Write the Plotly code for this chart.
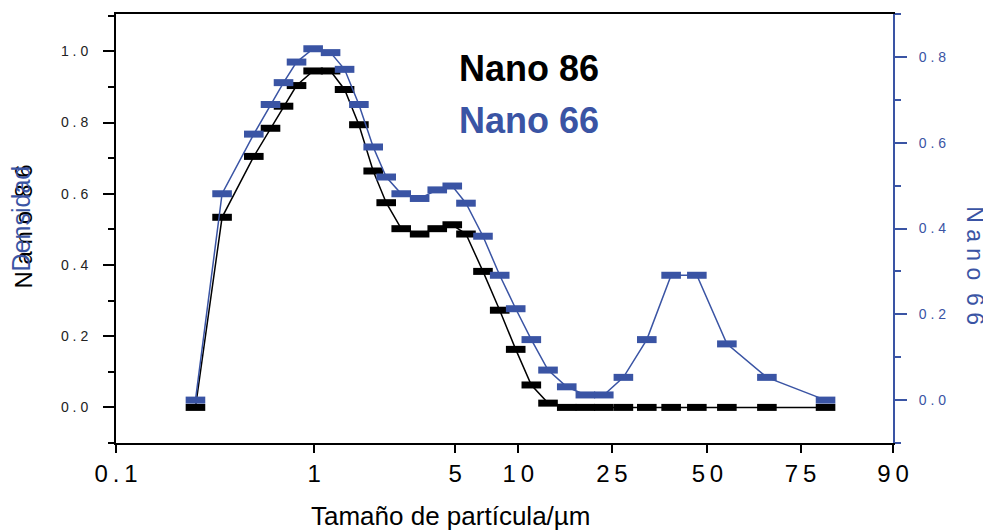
import plotly.graph_objects as go

# ---- data (x given in the chart's own custom size-axis units) ----
TICK_LABELS = ["0\u2009.\u20091", "1", "5", "1\u20090", "2\u20095", "5\u20090", "7\u20095", "9\u20090"]
TICK_POS = [0.0, 198.0, 339.0, 402.0, 495.5, 591.0, 684.0, 776.4]

X_POS = [79.4, 106.0, 137.7, 154.4, 167.4, 180.4, 197.0, 214.4, 228.4, 242.7,
         257.0, 270.0, 285.0, 303.4, 321.0, 336.0, 349.7, 366.7, 383.4, 399.4,
         415.0, 431.7, 450.4, 469.0, 487.4, 507.0, 530.4, 554.7, 580.4, 610.4,
         650.4, 709.0]

NANO86 = [0.0, 0.534, 0.705, 0.784, 0.846, 0.904, 0.945, 0.945, 0.893, 0.794,
          0.664, 0.575, 0.502, 0.487, 0.502, 0.513, 0.487, 0.382, 0.273, 0.163,
          0.063, 0.012, 0.0, 0.0, 0.0, 0.0, 0.0, 0.0, 0.0, 0.0,
          0.0, 0.0]

NANO66 = [0.0, 0.481, 0.620, 0.689, 0.740, 0.788, 0.819, 0.810, 0.771, 0.689,
          0.590, 0.520, 0.481, 0.470, 0.490, 0.499, 0.459, 0.382, 0.291, 0.213,
          0.141, 0.070, 0.031, 0.012, 0.012, 0.053, 0.141, 0.291, 0.291, 0.131,
          0.053, 0.0]

LEFT_TICKS = [0.0, 0.2, 0.4, 0.6, 0.8, 1.0]
LEFT_TEXT = ["0 . 0", "0 . 2", "0 . 4", "0 . 6", "0 . 8", "1 . 0"]
RIGHT_TICKS = [0.0, 0.2, 0.4, 0.6, 0.8]
RIGHT_TEXT = ["0 . 0", "0 . 2", "0 . 4", "0 . 6", "0 . 8"]

BLACK = "#000000"
BLUE = "#3a54a4"
SANS = "Liberation Sans, Arial, sans-serif"

fig = go.Figure()

fig.add_trace(go.Scatter(
    x=X_POS, y=NANO86, mode="lines+markers", name="Nano 86",
    line=dict(color=BLACK, width=1.5),
    marker=dict(symbol="line-ew", size=14, line=dict(color=BLACK, width=7)),
    yaxis="y", showlegend=False, cliponaxis=False,
))
fig.add_trace(go.Scatter(
    x=X_POS, y=NANO66, mode="lines+markers", name="Nano 66",
    line=dict(color=BLUE, width=1.5),
    marker=dict(symbol="line-ew", size=14, line=dict(color=BLUE, width=7)),
    yaxis="y2", showlegend=False, cliponaxis=False,
))


def note(text, x, y, size, color, angle=0):
    return dict(text=text, x=x, y=y, xref="paper", yref="paper",
                xanchor="center", yanchor="middle", textangle=angle,
                showarrow=False, font=dict(family=SANS, size=size, color=color))


fig.update_layout(
    width=983, height=523,
    margin=dict(l=108, r=98, t=4, b=88),
    paper_bgcolor="white", plot_bgcolor="white",
    xaxis=dict(
        range=[0, 776.4], tickmode="array", tickvals=TICK_POS, ticktext=TICK_LABELS,
        showgrid=False, zeroline=False, showline=True, linecolor=BLACK, linewidth=2,
        mirror=True, ticks="outside", ticklen=8, tickwidth=1.5, tickcolor=BLACK,
        tickfont=dict(family=SANS, size=24, color=BLACK),
    ),
    yaxis=dict(
        range=[-0.1, 1.105], tickmode="array", tickvals=LEFT_TICKS, ticktext=LEFT_TEXT,
        showgrid=False, zeroline=False, showline=True, linecolor=BLACK, linewidth=2,
        ticks="outside", ticklen=11, tickwidth=1.5, tickcolor=BLACK,
        ticklabelposition="outside", ticklabelstandoff=12,
        minor=dict(ticks="outside", ticklen=6, dtick=0.1, tick0=0, tickcolor=BLACK, tickwidth=1.5),
        tickfont=dict(family=SANS, size=14, color="#222222"),
    ),
    yaxis2=dict(
        range=[-0.1, 0.9], overlaying="y", side="right", anchor="x",
        tickmode="array", tickvals=RIGHT_TICKS, ticktext=RIGHT_TEXT,
        showgrid=False, zeroline=False, showline=True, linecolor=BLUE, linewidth=2,
        ticks="outside", ticklen=12, tickwidth=1.5, tickcolor=BLUE,
        ticklabelposition="outside", ticklabelstandoff=9,
        minor=dict(ticks="outside", ticklen=6, dtick=0.1, tick0=0, tickcolor=BLUE, tickwidth=1.5),
        tickfont=dict(family=SANS, size=14, color=BLUE),
    ),
    annotations=[
        note("<b>Nano 86</b>", 0.531, 0.874, 36, BLACK),
        note("<b>Nano 66</b>", 0.531, 0.751, 36, BLUE),
        note("N a n o  8 6", -0.1189, 0.504, 24, BLACK, -90),
        note("Densidad", -0.1227, 0.5227, 25, BLUE, -90),
        note("N a n o  6 6", 1.106, 0.4137, 23, BLUE, 90),
        note("Tamaño de partícula/µm", 0.431, -0.171, 26, BLACK),
    ],
)

fig.write_html("out.html")
